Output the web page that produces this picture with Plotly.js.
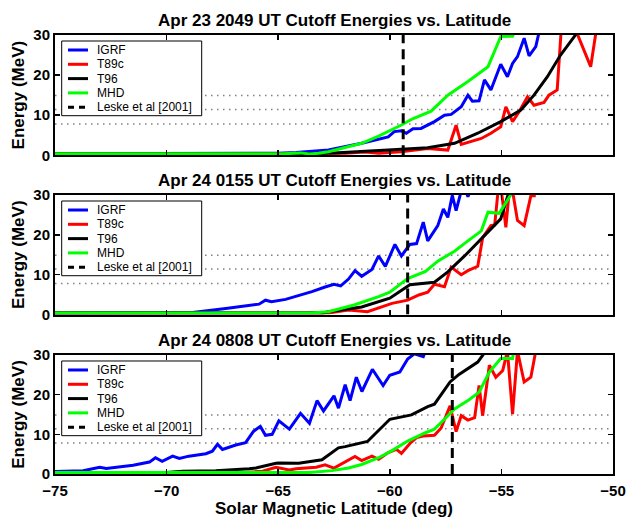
<!DOCTYPE html>
<html><head><meta charset="utf-8">
<script src="https://cdn.plot.ly/plotly-3.0.1.min.js"></script>
<style>html,body{margin:0;padding:0;background:#fff}#chart{width:626px;height:523px}</style>
</head><body><div id="chart"></div>
<script>
// ---- text / categories ----
const seriesNames = ['IGRF', 'T89c', 'T96', 'MHD'];
const leskeName = 'Leske et al [2001]';
const panelTitles = [
  'Apr 23 2049 UT Cutoff Energies vs. Latitude',
  'Apr 24 0155 UT Cutoff Energies vs. Latitude',
  'Apr 24 0808 UT Cutoff Energies vs. Latitude'
];
const xTickVals = [-75, -70, -65, -60, -55, -50];
const yTickVals = [0, 10, 20, 30];
const dottedLevels = [7.8, 11.4, 14.9];
const leskeLat = [-59.4, -59.2, -57.2];
const leskeSpan = [0, 30];

// ---- Panel 1: Apr 23 2049 UT ----
const p1IgrfLat = [-75, -66, -65, -64.2, -62.75, -61.26, -60.07, -59.8, -59.48, -59.26, -58.96, -58.6, -58.0, -57.55, -57.25, -56.8, -56.5, -56.3, -56.0, -55.76, -55.47, -55.03, -54.73, -54.5, -54.28, -53.98, -53.76, -53.46, -53.3];
const p1IgrfE   = [0.4, 0.4, 0.5, 0.7, 1.3, 3.0, 4.6, 5.9, 6.1, 5.5, 6.6, 6.7, 8.4, 10.0, 10.2, 12.1, 15.0, 13.5, 13.6, 18.8, 16.3, 22.7, 19.6, 22.9, 24.6, 29.2, 24.8, 27.1, 31];
const p1T89Lat  = [-75, -64, -62, -61.1, -60.5, -59.5, -58.3, -57.4, -57.03, -56.8, -56.36, -55.9, -55.47, -55.03, -54.8, -54.5, -54.2, -53.83, -53.54, -53.09, -52.87, -52.5, -52.3, -51.8, -51.0, -50.7];
const p1T89E    = [0.4, 0.4, 0.5, 0.8, 0.5, 0.9, 1.7, 1.3, 7.5, 2.7, 3.4, 4.2, 5.5, 7.1, 12.1, 8.4, 10.9, 14.6, 12.5, 13.2, 15.0, 16.3, 33, 33, 22.1, 33];
const p1T96Lat  = [-75, -64, -62.5, -61.26, -60.0, -59.48, -58.3, -57.1, -56.06, -55.03, -54.13, -53.54, -52.94, -52.35, -51.68, -51.5];
const p1T96E    = [0.4, 0.4, 0.6, 0.9, 1.2, 1.5, 1.9, 3.0, 5.5, 8.4, 11.3, 15.0, 19.6, 25.0, 30, 31.5];
const p1MhdLat  = [-75, -64.8, -64, -63.6, -63.2, -62.75, -61.26, -60.5, -59.48, -59.0, -58.15, -57.4, -56.5, -55.6, -55.03, -54.5, -54.4];
const p1MhdE    = [0.4, 0.4, 0.6, 0.3, 0.5, 0.9, 3.0, 4.8, 7.55, 9.05, 11.0, 15.0, 18.4, 22.1, 29.6, 29.7, 31];

// ---- Panel 2: Apr 24 0155 UT ----
const p2IgrfLat = [-75, -70.3, -68.84, -67.35, -65.86, -65.57, -65.3, -64.67, -64.08, -63.49, -62.9, -62.5, -62.2, -61.85, -61.56, -61.26, -60.8, -60.5, -60.2, -59.77, -59.48, -59.1, -58.8, -58.5, -58.3, -57.85, -57.6, -57.4, -57.2, -57.03, -56.8, -56.6, -56.5, -56.4];
const p2IgrfE   = [0.4, 0.4, 0.5, 1.5, 2.6, 3.6, 3.2, 3.8, 4.7, 5.75, 6.9, 7.6, 7.2, 8.9, 11.0, 9.6, 11.3, 14.7, 12.1, 17.6, 14.7, 17.6, 17.8, 23.2, 18.5, 22.3, 26.5, 24.4, 29.9, 26.1, 31, 31, 29.6, 31];
const p2T89Lat  = [-75, -63, -62.75, -61.85, -61.0, -59.9, -59.2, -58.7, -58.3, -58.0, -57.55, -57.25, -56.8, -56.5, -56.06, -55.84, -55.47, -55.3, -55.15, -55.0, -54.8, -54.65, -54.5, -54.28, -53.98, -53.68, -53.46];
const p2T89E    = [0.4, 0.4, 0.4, 1.1, 0.7, 2.8, 3.6, 4.9, 5.6, 7.6, 7.0, 11.9, 10.0, 11.0, 12.1, 19.3, 22.3, 22.5, 31, 31, 21.9, 31, 31, 23.6, 22.3, 29.8, 29.8];
const p2T96Lat  = [-75, -63, -62.75, -61.26, -60.0, -59.1, -58.0, -57.4, -56.65, -55.9, -55.03, -54.65];
const p2T96E    = [0.4, 0.4, 0.7, 1.9, 4.1, 7.5, 8.1, 10.7, 14.7, 18.9, 24.0, 31];
const p2MhdLat  = [-75, -63.5, -62.75, -61.6, -60.5, -60.0, -59.2, -58.4, -57.85, -57.1, -56.5, -55.9, -55.6, -55.1, -54.55, -54.5];
const p2MhdE    = [0.4, 0.4, 0.7, 2.4, 4.5, 5.6, 9.0, 10.8, 13.4, 15.9, 18.5, 21.0, 25.7, 25.4, 30.3, 31];

// ---- Panel 3: Apr 24 0808 UT ----
const p3IgrfLat = [-75, -73.74, -73.0, -72.7, -71.5, -70.77, -70.5, -70.2, -69.73, -69.43, -69.0, -68.24, -67.95, -67.72, -67.5, -66.9, -66.46, -66.1, -65.8, -65.57, -65.27, -64.97, -64.5, -64.0, -63.6, -63.26, -62.97, -62.5, -62.3, -62.0, -61.78, -61.5, -61.25, -60.78, -60.3, -60.0, -59.55, -59.2, -58.9, -58.5, -58.4];
const p3IgrfE   = [0.6, 0.8, 1.7, 1.4, 2.2, 3.0, 4.1, 3.2, 4.5, 3.9, 4.5, 5.1, 5.75, 7.5, 6.2, 7.3, 7.9, 10.8, 12.0, 9.75, 10.0, 13.4, 11.3, 15.3, 12.8, 18.5, 15.9, 19.7, 16.6, 22.5, 18.5, 24.4, 20.8, 26.4, 22.3, 24.9, 25.7, 29.0, 30.3, 29.6, 31];
const p3T89Lat  = [-75, -66.5, -65.7, -65.1, -64.5, -64.2, -63.3, -62.9, -62.5, -62.0, -61.56, -61.26, -60.8, -60.5, -60.07, -59.7, -59.48, -59.1, -58.8, -58.5, -58.0, -57.7, -57.3, -57.03, -56.8, -56.5, -56.2, -56.0, -55.84, -55.54, -55.25, -54.94, -54.73, -54.5, -54.28, -53.98, -53.68, -53.46];
const p3T89E    = [0.4, 0.4, 0.7, 1.7, 1.0, 1.3, 1.7, 2.3, 1.5, 3.0, 4.4, 3.4, 4.5, 3.7, 5.4, 6.2, 5.2, 7.7, 9.2, 9.6, 9.75, 11.6, 17.2, 10.7, 14.7, 13.6, 14.2, 22.3, 14.7, 27.4, 24.4, 26.1, 31, 15.1, 31, 23.2, 24.4, 31];
const p3T96Lat  = [-75, -70.0, -69.28, -67.8, -66.3, -66.0, -65.1, -64.97, -64.08, -63.04, -62.3, -62.0, -61.0, -60.0, -59.03, -58.3, -58.0, -57.3, -56.9, -56.06, -55.7];
const p3T96E    = [0.4, 0.4, 0.7, 0.8, 1.35, 1.5, 2.7, 2.8, 2.7, 3.6, 6.6, 6.9, 8.2, 13.8, 14.9, 17.0, 17.6, 23.2, 25.1, 28.2, 31];
const p3MhdLat  = [-75, -63.6, -62.6, -61.85, -61.26, -60.5, -59.9, -59.2, -58.4, -58.0, -57.55, -57.1, -56.5, -56.0, -55.54, -55.03, -54.5, -54.45];
const p3MhdE    = [0.4, 0.4, 0.85, 1.5, 2.4, 4.1, 5.9, 8.3, 10.4, 11.3, 13.8, 16.4, 18.5, 20.6, 25.7, 29.1, 29.1, 31];

// ---- build ----
const colors = ['#0000ff', '#ff0000', '#000000', '#00ff00'];
const panels = [
  {lats: [p1IgrfLat, p1T89Lat, p1T96Lat, p1MhdLat], es: [p1IgrfE, p1T89E, p1T96E, p1MhdE]},
  {lats: [p2IgrfLat, p2T89Lat, p2T96Lat, p2MhdLat], es: [p2IgrfE, p2T89E, p2T96E, p2MhdE]},
  {lats: [p3IgrfLat, p3T89Lat, p3T96Lat, p3MhdLat], es: [p3IgrfE, p3T89E, p3T96E, p3MhdE]}
];
const FONT = 'Liberation Sans, Arial, Helvetica, sans-serif';
const W = 558, PH = 439;
const domains = [[0.726, 1], [0.3633, 0.6355], [0, 0.2711]];

const traces = [];
const shapes = [];
const annotations = [];
panels.forEach((p, k) => {
  const s = k === 0 ? '' : String(k + 1);
  for (let i = 0; i < 4; i++) {
    traces.push({
      type: 'scatter', mode: 'lines', x: p.lats[i], y: p.es[i],
      xaxis: 'x' + s, yaxis: 'y' + s, name: seriesNames[i],
      line: {color: colors[i], width: 3}, showlegend: false, hoverinfo: 'skip'
    });
  }
  traces.push({
    type: 'scatter', mode: 'lines', x: [leskeLat[k], leskeLat[k]], y: leskeSpan,
    xaxis: 'x' + s, yaxis: 'y' + s, name: leskeName,
    line: {color: '#000', width: 3, dash: '10px,6px'}, showlegend: false, hoverinfo: 'skip'
  });
  dottedLevels.forEach(lev => {
    shapes.push({type: 'line', xref: 'x' + s + ' domain', x0: 0, x1: 1, yref: 'y' + s, y0: lev, y1: lev,
      line: {color: '#808080', width: 1.5, dash: '1.5px,4.5px'}, layer: 'below'});
  });
  // legend box (pixel offsets from panel top-left)
  const H = (domains[k][1] - domains[k][0]) * PH;
  const fx = dx => dx / W;
  const fy = dy => 1 - dy / H;
  const xr = 'x' + s + ' domain', yr = 'y' + s + ' domain';
  shapes.push({type: 'rect', xref: xr, yref: yr, x0: fx(6.7), x1: fx(146.7), y0: fy(6), y1: fy(80.7),
    fillcolor: '#fff', line: {color: '#000', width: 1}, layer: 'above'});
  const names = seriesNames.concat([leskeName]);
  names.forEach((nm, i) => {
    const dy = 15 + i * 14.3;
    shapes.push({type: 'line', xref: xr, yref: yr, x0: fx(13), x1: fx(33), y0: fy(dy), y1: fy(dy),
      line: {color: i < 4 ? colors[i] : '#000', width: 3, dash: i < 4 ? 'solid' : '6px,5px'}, layer: 'above'});
    annotations.push({xref: xr, yref: yr, x: fx(40), y: fy(dy), xanchor: 'left', yanchor: 'middle',
      text: nm, showarrow: false, font: {family: FONT, size: 12, color: '#000'}});
  });
  annotations.push({xref: xr, yref: yr, x: 0.5, y: 1, xanchor: 'center', yanchor: 'bottom', yshift: 3,
    text: panelTitles[k], showarrow: false, font: {family: FONT, size: 17, weight: 'bold', color: '#000'}});
});

const axCommon = {
  showline: true, linecolor: '#000', linewidth: 2, mirror: 'ticks',
  ticks: 'inside', ticklen: 5, tickwidth: 1.5, tickcolor: '#000',
  showgrid: false, zeroline: false, fixedrange: true, ticklabeloverflow: 'allow',
  tickfont: {family: FONT, size: 15, weight: 'bold', color: '#000'}
};
const layout = {
  width: 626, height: 523, margin: {l: 55, r: 13, t: 35, b: 49},
  paper_bgcolor: '#fff', plot_bgcolor: '#fff', showlegend: false,
  shapes: shapes, annotations: annotations
};
for (let k = 0; k < 3; k++) {
  const s = k === 0 ? '' : String(k + 1);
  layout['xaxis' + s] = Object.assign({}, axCommon, {
    domain: [0, 1], anchor: 'y' + s, range: [-75, -50], tickvals: xTickVals,
    showticklabels: k === 2, ticklabelstandoff: 2
  });
  layout['yaxis' + s] = Object.assign({}, axCommon, {
    domain: domains[k], anchor: 'x' + s, range: [0, 30], tickvals: yTickVals,
    title: {text: 'Energy (MeV)', standoff: 4, font: {family: FONT, size: 17, weight: 'bold', color: '#000'}}
  });
}
layout.xaxis3.title = {text: 'Solar Magnetic Latitude (deg)', standoff: 0, font: {family: FONT, size: 17, weight: 'bold', color: '#000'}};

Plotly.newPlot('chart', traces, layout, {staticPlot: true, displayModeBar: false});
</script>
</body></html>
